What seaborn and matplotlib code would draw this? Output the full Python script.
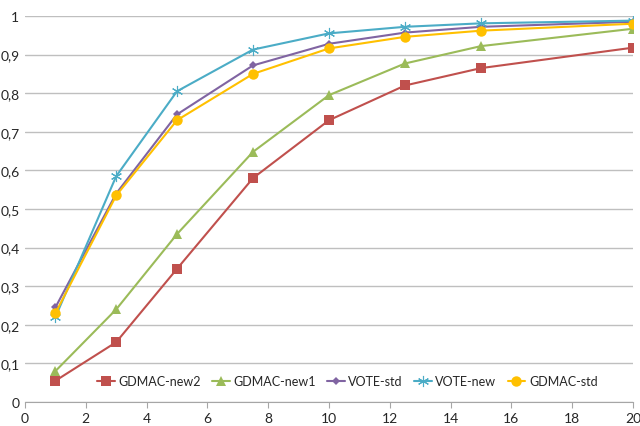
import numpy as np
import pandas as pd
import seaborn as sns
import matplotlib.pyplot as plt
from matplotlib.ticker import FuncFormatter

sns.set_style("white")
plt.rcParams['font.family'] = ['Lato', 'DejaVu Sans']

# Data
x_values = [1, 3, 5, 7.5, 10, 12.5, 15, 20]
gdmac_new2 = [0.055, 0.155, 0.345, 0.580, 0.730, 0.820, 0.865, 0.918]
gdmac_new1 = [0.080, 0.240, 0.435, 0.648, 0.795, 0.877, 0.922, 0.967]
vote_std = [0.245, 0.540, 0.745, 0.872, 0.928, 0.957, 0.972, 0.985]
vote_new = [0.220, 0.585, 0.805, 0.913, 0.955, 0.972, 0.981, 0.988]
gdmac_std = [0.230, 0.535, 0.730, 0.850, 0.916, 0.946, 0.962, 0.980]

series_names = ["GDMAC-new2", "GDMAC-new1", "VOTE-std", "VOTE-new", "GDMAC-std"]
series_values = [gdmac_new2, gdmac_new1, vote_std, vote_new, gdmac_std]

df = pd.DataFrame({
    "x": np.tile(x_values, len(series_names)),
    "y": np.concatenate(series_values),
    "series": np.repeat(series_names, len(x_values)),
})

palette = {
    "GDMAC-new2": "#C0504D",
    "GDMAC-new1": "#9BBB59",
    "VOTE-std": "#8064A2",
    "VOTE-new": "#4BACC6",
    "GDMAC-std": "#FFC000",
}
markers = {
    "GDMAC-new2": "s",
    "GDMAC-new1": "^",
    "VOTE-std": "D",
    "VOTE-new": (6, 2, 0),
    "GDMAC-std": "o",
}
msizes = {"GDMAC-new2": 7, "GDMAC-new1": 6.5, "VOTE-std": 4.5,
          "VOTE-new": 8, "GDMAC-std": 7.5}

fig = plt.figure(figsize=(6.4, 4.27), dpi=100)
ax = fig.add_axes([25 / 640, 1 - 403 / 427, 608 / 640, 386 / 427])

for name in series_names:
    sub = df[df["series"] == name]
    sns.lineplot(data=sub, x="x", y="y", ax=ax, color=palette[name],
                 marker=markers[name], markersize=msizes[name],
                 markeredgewidth=0.8 if name == "VOTE-new" else 0,
                 markeredgecolor=palette[name],
                 linewidth=1.5, label=name)

ax.set_xlim(0, 20)
ax.set_ylim(0, 1)
ax.set_xticks(np.arange(0, 21, 2))
ax.set_yticks(np.arange(0, 1.01, 0.1))
ax.yaxis.set_major_formatter(FuncFormatter(
    lambda v, p: "0" if abs(v) < 1e-9 else ("1" if abs(v - 1) < 1e-9 else f"{v:.1f}".replace(".", ","))))
ax.grid(axis="y", color="#BFBFBF", linewidth=1)
ax.set_axisbelow(True)
ax.set_xlabel("")
ax.set_ylabel("")

for s in ["top", "right", "left"]:
    ax.spines[s].set_visible(False)
ax.spines["bottom"].set_color("#A6A6A6")
ax.tick_params(axis="x", direction="out", length=4, color="#A6A6A6",
               labelsize=10, pad=3, bottom=True)
ax.tick_params(axis="y", length=0, labelsize=10, pad=4)

ax.legend(loc="lower right", bbox_to_anchor=(0.95, 0.025), ncol=5, frameon=False,
          fontsize=9, handlelength=1.4, handletextpad=0.3, columnspacing=0.9,
          borderaxespad=0)

fig.savefig("out.png", dpi=100)
plt.close(fig)
